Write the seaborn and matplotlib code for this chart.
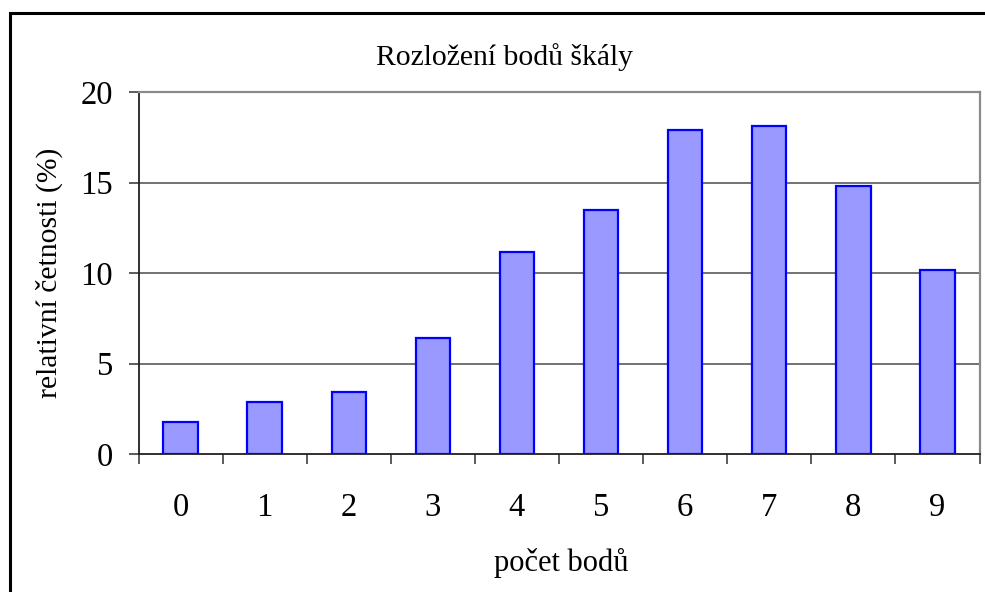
import matplotlib
matplotlib.use('Agg')
import matplotlib.pyplot as plt
import seaborn as sns
import pandas as pd
from matplotlib.patches import Rectangle

# data
body = ['0', '1', '2', '3', '4', '5', '6', '7', '8', '9']
cetnost = [1.78, 2.89, 3.44, 6.43, 11.18, 13.5, 17.92, 18.14, 14.82, 10.18]
yticks = [0, 5, 10, 15, 20]

sns.set_style('white')
plt.rcParams['font.family'] = ['Liberation Serif', 'DejaVu Serif']
plt.rcParams['text.color'] = 'black'
plt.rcParams['xtick.color'] = 'black'
plt.rcParams['ytick.color'] = 'black'

data = pd.DataFrame({'body': body, 'cetnost': cetnost})

fig = plt.figure(figsize=(9.85, 5.92), dpi=100)
ax = fig.add_axes([138.5/985, 1-454/592, 841/985, 362/592])

sns.barplot(data=data, x='body', y='cetnost', ax=ax, width=0.41,
            color='#9999FF', saturation=1, edgecolor='#0000FF', linewidth=1.6)

ax.set_ylim(0, 20)
ax.set_xlim(-0.5, 9.5)
ax.set_yticks(yticks)
ax.set_yticklabels([str(t) for t in yticks], fontsize=23.5)
ax.set_xticks(range(len(body)))
ax.set_xticklabels(body, fontsize=23.5)
ax.set_xticks([i - 0.5 for i in range(len(body) + 1)], minor=True)
ax.tick_params(axis='x', which='major', bottom=True, length=0, pad=28)
ax.tick_params(axis='x', which='minor', bottom=True, length=7.2, width=1.1,
               color='#303030', direction='out')
ax.tick_params(axis='y', which='major', left=True, length=7.2, width=1.1,
               color='#303030', direction='out', pad=11)

for t in yticks[1:]:
    ax.axhline(t, color='#5a5a5a', lw=1.2, zorder=0)

ax.set_xlabel('')
ax.set_ylabel('')
for s in ['left', 'bottom']:
    ax.spines[s].set_color('#202020')
    ax.spines[s].set_linewidth(1.3)
for s in ['top', 'right']:
    ax.spines[s].set_color('#8a8a8a')
    ax.spines[s].set_linewidth(1.6)

fig.text(505/985, 1-57/592, 'Rozložení bodů škály', fontsize=21.3, ha='center', va='center')
fig.text(561/985, 1-563/592, 'počet bodů', fontsize=22, ha='center', va='center')
fig.text(49/985, 1-273/592, 'relativní četnosti (%)', fontsize=21.3, ha='center', va='center',
         rotation=90)

# chart border, right and bottom edges fall outside the picture
fig.patches.append(Rectangle((10/985, -0.1), 1.2, 1 - 13/592 + 0.1, transform=fig.transFigure,
                             fill=False, edgecolor='black', lw=2.2))

fig.savefig('out.png', dpi=100)
